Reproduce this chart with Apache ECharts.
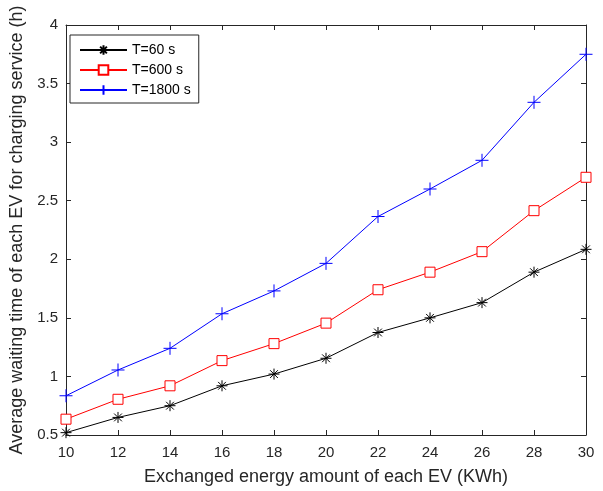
<!DOCTYPE html>
<html>
<head>
<meta charset="utf-8">
<script src="https://cdn.jsdelivr.net/npm/echarts@6/dist/echarts.min.js"></script>
<style>
  html, body { margin: 0; padding: 0; background: #fff; }
  #chart { width: 603px; height: 491px; }
</style>
</head>
<body>
<div id="chart"></div>
<script>
// Exchanged energy per EV (kWh)
const energy = [10, 12, 14, 16, 18, 20, 22, 24, 26, 28, 30];
// Average waiting time (h) for each update period T
const wait60 = [0.52, 0.65, 0.75, 0.92, 1.02, 1.155, 1.375, 1.50, 1.63, 1.89, 2.085];
const wait600 = [0.635, 0.805, 0.92, 1.135, 1.28, 1.455, 1.74, 1.89, 2.065, 2.415, 2.70];
const wait1800 = [0.835, 1.055, 1.24, 1.535, 1.73, 1.965, 2.365, 2.60, 2.845, 3.34, 3.75];
const seriesNames = ['T=60 s', 'T=600 s', 'T=1800 s'];

const AXIS = '#262626';
const FONT = 'Liberation Sans, Arial, Helvetica, sans-serif';

const asterisk = 'path://M0,-1L0,1M-1,0L1,0M-0.707,-0.707L0.707,0.707M-0.707,0.707L0.707,-0.707';
const plus = 'path://M-1,0L1,0M0,-1L0,1';

const pairs = ys => energy.map((x, i) => [x, ys[i]]);

function mkSeries(name, ys, color, symbol, size, fillWhite) {
  return {
    name: name,
    type: 'line',
    data: pairs(ys),
    symbol: symbol,
    symbolSize: size,
    showAllSymbol: true,
    lineStyle: { color: color, width: 1 },
    itemStyle: { color: fillWhite ? '#fff' : color, borderColor: color, borderWidth: 1 },
    emphasis: { disabled: true },
    animation: false,
    z: 3
  };
}

const chart = echarts.init(document.getElementById('chart'), null, { renderer: 'canvas' });

const baseAxis = {
  axisLine: { show: true, lineStyle: { color: AXIS, width: 1 } },
  axisTick: { show: true, inside: true, length: 5, lineStyle: { color: AXIS } },
  splitLine: { show: false }
};

chart.setOption({
  animation: false,
  backgroundColor: '#fff',
  grid: { left: 66, right: 17, top: 25, bottom: 56, containLabel: false },
  legend: {
    orient: 'vertical',
    left: 70,
    top: 35,
    padding: [8, 8, 6, 9],
    itemGap: 6,
    itemWidth: 47,
    itemHeight: 12,
    borderColor: AXIS,
    borderWidth: 1,
    backgroundColor: '#fff',
    textStyle: { fontFamily: FONT, fontSize: 14, color: '#000' },
    data: seriesNames
  },
  xAxis: [
    Object.assign({
      type: 'value', min: 10, max: 30, interval: 2, position: 'bottom',
      name: 'Exchanged energy amount of each EV (KWh)',
      nameLocation: 'middle', nameGap: 33,
      nameTextStyle: { fontFamily: FONT, fontSize: 18, color: AXIS },
      axisLabel: { fontFamily: FONT, fontSize: 15, color: AXIS, margin: 10 }
    }, baseAxis),
    Object.assign({
      type: 'value', min: 10, max: 30, interval: 2, position: 'top',
      axisLabel: { show: false }
    }, baseAxis)
  ],
  yAxis: [
    Object.assign({
      type: 'value', min: 0.5, max: 4, interval: 0.5, position: 'left',
      name: 'Average waiting time of each EV for charging service (h)',
      nameLocation: 'middle', nameGap: 36, nameRotate: 90,
      nameTextStyle: { fontFamily: FONT, fontSize: 18, color: AXIS },
      axisLabel: { fontFamily: FONT, fontSize: 15, color: AXIS, margin: 8 }
    }, baseAxis),
    Object.assign({
      type: 'value', min: 0.5, max: 4, interval: 0.5, position: 'right',
      axisLabel: { show: false }
    }, baseAxis)
  ],
  series: [
    mkSeries(seriesNames[0], wait60, '#000000', asterisk, 11, false),
    mkSeries(seriesNames[1], wait600, '#ff0000', 'rect', 10, true),
    mkSeries(seriesNames[2], wait1800, '#0000ff', plus, 13, false)
  ]
});
</script>
</body>
</html>
